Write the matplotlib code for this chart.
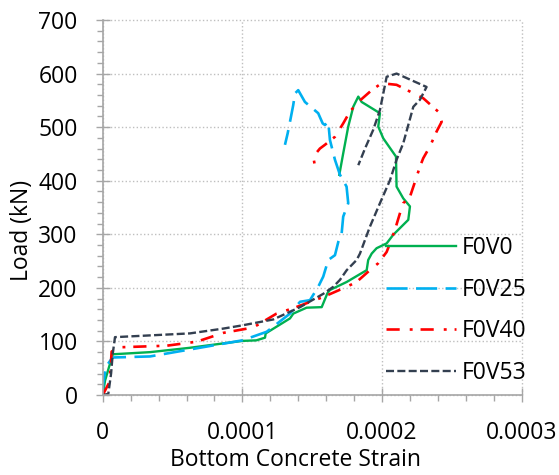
import matplotlib
matplotlib.use("Agg")
import matplotlib.pyplot as plt
from matplotlib.ticker import MultipleLocator, FuncFormatter
import numpy as np

plt.rcParams['font.family'] = ['Open Sans', 'DejaVu Sans']

labels = ["F0V0", "F0V25", "F0V40", "F0V53"]

# strain in units of 1e-4, load in kN
f0v0_strain = [0, 0.017, 0.072, 0.339, 0.62, 1.0, 1.10, 1.162, 1.167, 1.341, 1.365, 1.46, 1.568,
               1.609, 1.627, 1.747, 1.89, 1.901, 1.926, 1.961, 2.033, 2.08, 2.188, 2.2, 2.152,
               2.104, 2.1, 2.009, 1.973, 1.985, 1.854, 1.83, 1.794, 1.758, 1.722, 1.694]
f0v0_load = [0, 27, 76, 80, 88, 101, 102, 107, 115, 143, 152, 163, 164,
             190, 196, 211, 233, 252, 264, 274, 283, 299, 327, 352, 367,
             389, 445, 479, 501, 526, 547, 557, 538, 501, 451, 411]

f0v25_strain = [0, 0.004, 0.024, 0.07, 0.339, 0.625, 1.0, 1.174, 1.341, 1.413, 1.484, 1.543,
                1.579, 1.615, 1.663, 1.687, 1.711, 1.722, 1.758, 1.746, 1.699, 1.663, 1.627,
                1.615, 1.591, 1.575, 1.543, 1.448, 1.40, 1.377, 1.364, 1.341, 1.324, 1.305]
f0v25_load = [5, 22, 53, 70, 72, 85, 102, 118, 152, 174, 177, 202,
              221, 252, 261, 286, 302, 333, 358, 389, 411, 439, 476,
              510, 504, 507, 526, 547, 569, 563, 541, 510, 488, 467]

f0v40_strain = [0, 0.05, 0.064, 0.112, 0.458, 0.673, 0.864, 1.078, 1.245, 1.364, 1.58, 1.747,
                1.818, 1.913, 1.973, 2.033, 2.057, 2.092, 2.128, 2.152, 2.2, 2.236, 2.271,
                2.295, 2.343, 2.391, 2.427, 2.402, 2.295, 2.104, 1.997, 1.926, 1.83, 1.77,
                1.722, 1.663, 1.591, 1.555, 1.508, 1.52]
f0v40_load = [0, 25, 81, 89, 92, 99.5, 116, 126, 152, 162, 183, 202,
              211, 233, 246, 267, 283, 308, 339, 358, 370, 398, 426,
              442, 464, 492, 510, 529, 554, 579, 582, 569, 547, 529,
              507, 482, 467, 460, 445, 426]

f0v53_strain = [0, 0.04, 0.06, 0.072, 0.088, 0.625, 0.864, 1.0, 1.221, 1.413, 1.58, 1.651,
                1.699, 1.747, 1.818, 1.842, 1.913, 1.985, 2.057, 2.104, 2.152, 2.188, 2.224,
                2.271, 2.319, 2.104, 2.033, 2.009, 1.985, 1.937, 1.878, 1.83]
f0v53_load = [0, 2, 40, 77, 108, 115, 124, 130, 141, 164, 189, 202,
              215, 233, 252, 264, 314, 358, 401, 439, 470, 504, 538,
              551, 575, 600, 594, 563, 532, 495, 460, 429]

fig = plt.figure(figsize=(5.59, 4.75), dpi=100)
ax = fig.add_axes([102.7/559, 1-395/475, 419/559, 375/475])

scale = 1e-4
ax.plot(np.array(f0v0_strain)*scale, f0v0_load, color='#00B050', lw=1.7, label=labels[0])
ax.plot(np.array(f0v25_strain)*scale, f0v25_load, color='#00B0F0', lw=1.9,
        dashes=(8.0, 3.2), label=labels[1])
ax.plot(np.array(f0v40_strain)*scale, f0v40_load, color='#FF0000', lw=1.9,
        dashes=(5.0, 3.8, 1.1, 3.0), label=labels[2])
ax.plot(np.array(f0v53_strain)*scale, f0v53_load, color='#333F50', lw=1.7,
        dashes=(3.4, 1.4), label=labels[3])

ax.set_xlim(0, 0.0003)
ax.set_ylim(0, 700)
ax.xaxis.set_major_locator(MultipleLocator(0.0001))
ax.xaxis.set_minor_locator(MultipleLocator(0.00002))
ax.yaxis.set_major_locator(MultipleLocator(100))
ax.yaxis.set_minor_locator(MultipleLocator(20))
ax.xaxis.set_major_formatter(FuncFormatter(lambda v, p: "0" if abs(v) < 1e-12 else f"{v:.4f}"))

fs = 16.5
gc = '#A6A6A6'
for s in ['top', 'right']:
    ax.spines[s].set_visible(False)
for s in ['left', 'bottom']:
    ax.spines[s].set_color(gc)
    ax.spines[s].set_linewidth(1.2)
ax.tick_params(which='major', direction='inout', length=10, width=1.0, color=gc,
               labelsize=fs)
ax.tick_params(axis='y', which='major', pad=13)
ax.tick_params(axis='x', which='major', pad=13.5)
ax.tick_params(which='minor', direction='out', length=4.5, width=1.0, color=gc)
ax.grid(True, which='major', color='#BFBFBF', linestyle=':', linewidth=1.0)
for gl in ax.get_xgridlines() + ax.get_ygridlines():
    gl.set_clip_on(False)

ax.set_xlabel("Bottom Concrete Strain", fontsize=fs)
ax.set_ylabel("Load (kN)", fontsize=fs)
ax.xaxis.set_label_coords((295-102.7)/419, -(460-395)/375)
ax.xaxis.label.set_va('center')
ax.yaxis.set_label_coords((21.7-102.7)/419, (395-230)/375)
ax.yaxis.label.set_va('center')

leg = ax.legend(loc='upper left', bbox_to_anchor=(386/559, 1-236/475),
                bbox_transform=fig.transFigure, frameon=False, fontsize=fs,
                handlelength=3.05, handletextpad=0.25, labelspacing=0.77,
                borderpad=0, borderaxespad=0)

fig.savefig("out.png", dpi=100)
